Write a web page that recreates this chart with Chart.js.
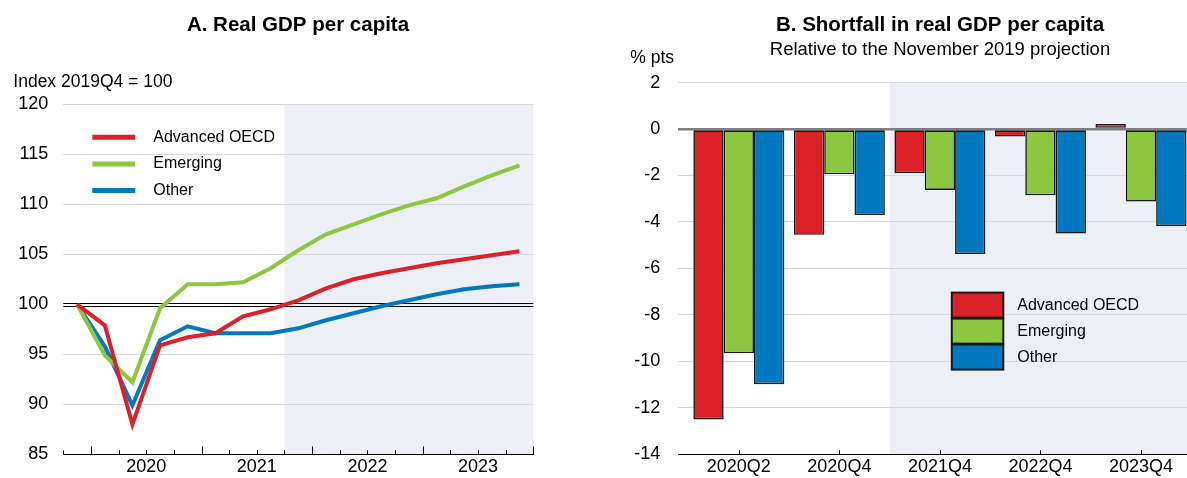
<!DOCTYPE html>
<html>
<head>
<meta charset="utf-8">
<script src="https://cdn.jsdelivr.net/npm/chart.js@4.4.1/dist/chart.umd.min.js"></script>
<style>
html,body{margin:0;padding:0;background:#fff;overflow:hidden;width:1187px;height:478px;position:relative;}
#chartA{position:absolute;left:0;top:0;}
#chartB{position:absolute;left:600px;top:0;}
</style>
</head>
<body>
<canvas id="chartA" width="596" height="478"></canvas>
<canvas id="chartB" width="680" height="478"></canvas>
<script>
// ---------- Data ----------
const quarters = ['2019Q4','2020Q1','2020Q2','2020Q3','2020Q4','2021Q1','2021Q2','2021Q3','2021Q4',
                  '2022Q1','2022Q2','2022Q3','2022Q4','2023Q1','2023Q2','2023Q3','2023Q4'];
const yearLabels = ['2020','2021','2022','2023'];
const advancedGDP = [100, 97.9, 88.0, 95.9, 96.7, 97.1, 98.8, 99.5, 100.4, 101.6, 102.5, 103.1, 103.6, 104.1, 104.5, 104.9, 105.3];
const emergingGDP = [100, 94.9, 92.2, 99.6, 102.0, 102.0, 102.2, 103.6, 105.4, 107.0, 108.0, 109.0, 109.9, 110.6, 111.8, 112.9, 113.9];
const otherGDP    = [100, 95.8, 89.9, 96.4, 97.8, 97.1, 97.1, 97.1, 97.6, 98.4, 99.1, 99.8, 100.4, 101.0, 101.5, 101.8, 102.0];
const gdpProjectionStart = '2021Q4';

const shortfallCategories = ['2020Q2','2020Q4','2021Q4','2022Q4','2023Q4'];
const advancedShortfall = [-12.5, -4.55, -1.9, -0.32, 0.22];
const emergingShortfall = [-9.65, -1.95, -2.62, -2.85, -3.12];
const otherShortfall    = [-10.98, -3.7, -5.38, -4.5, -4.18];
const shortfallProjectionStart = '2021Q4';

const seriesNames  = ['Advanced OECD', 'Emerging', 'Other'];
const seriesColors = ['#DA2128', '#8DC63F', '#0079C1'];

// ---------- Styling ----------
const FONT = "'Liberation Sans', Arial, Helvetica, sans-serif";
Chart.defaults.font.family = FONT;
Chart.defaults.color = '#000';
const GRID = '#D9D9D9';
const SHADE = '#ECEFF6';
const NONE = 'rgba(0,0,0,0)';

const toPoints = arr => arr.map((v, i) => ({x: i, y: v}));

// year label positions: middle of each year's quarters (index space)
const yearTickPositions = yearLabels.map(y => {
  const idx = quarters.map((q, i) => q.startsWith(y) ? i : -1).filter(i => i >= 0);
  return (idx[0] + idx[idx.length - 1]) / 2;
});

// an empty right-hand axis used only to reserve space, so titles stay centred on the canvas
const spacerAxis = w => ({
  type: 'linear', position: 'right', display: true,
  ticks: {display: false}, grid: {display: false, drawTicks: false}, border: {display: false},
  afterFit: s => { s.width = w; }
});

// ---------- Plugins for chart A ----------
const pluginA = {
  id: 'decorA',
  beforeDraw(chart) {
    const {ctx, chartArea: a, scales: {x}} = chart;
    const xs = x.getPixelForValue(quarters.indexOf(gdpProjectionStart) - 0.5);
    ctx.save();
    ctx.fillStyle = SHADE;
    ctx.fillRect(xs, a.top, a.right - xs, a.bottom - a.top);
    ctx.restore();
  },
  beforeDatasetsDraw(chart) {
    const {ctx, chartArea: a, scales: {x, y}} = chart;
    ctx.save();
    // double line at 100
    const y100 = y.getPixelForValue(100);
    ctx.strokeStyle = '#000';
    ctx.lineWidth = 1;
    [-1.5, 1.5].forEach(d => {
      ctx.beginPath();
      ctx.moveTo(a.left, Math.round(y100 + d) + 0.5);
      ctx.lineTo(a.right, Math.round(y100 + d) + 0.5);
      ctx.stroke();
    });
    // tick marks at quarter boundaries (upward)
    const yb = a.bottom;
    for (let i = 0; i <= quarters.length; i++) {
      const v = i - 0.5;
      const px = Math.round(x.getPixelForValue(v)) + 0.5;
      const nextQ = quarters[i];
      const major = nextQ ? nextQ.endsWith('Q1') : true;
      const len = major ? 8 : 4;
      ctx.beginPath();
      ctx.moveTo(px, yb);
      ctx.lineTo(px, yb - len);
      ctx.stroke();
    }
    ctx.restore();
  },
  afterDraw(chart) {
    const {ctx, chartArea: a} = chart;
    ctx.save();
    ctx.font = '17.5px ' + FONT;
    ctx.fillStyle = '#000';
    ctx.textBaseline = 'middle';
    ctx.textAlign = 'left';
    ctx.fillText('Index 2019Q4 = 100', a.left - 50, a.top - 22);
    // legend
    chart.data.datasets.forEach((ds, i) => {
      const yy = a.top + 33 + i * 26.6;
      ctx.strokeStyle = ds.borderColor;
      ctx.lineWidth = 5;
      ctx.beginPath();
      ctx.moveTo(a.left + 29, yy);
      ctx.lineTo(a.left + 72, yy);
      ctx.stroke();
      ctx.font = '16px ' + FONT;
      ctx.fillText(ds.label, a.left + 90, yy);
    });
    ctx.restore();
  }
};

new Chart(document.getElementById('chartA'), {
  type: 'line',
  data: {
    datasets: [
      {label: seriesNames[0], data: toPoints(advancedGDP), borderColor: seriesColors[0]},
      {label: seriesNames[1], data: toPoints(emergingGDP), borderColor: seriesColors[1]},
      {label: seriesNames[2], data: toPoints(otherGDP),    borderColor: seriesColors[2]}
    ].map(d => Object.assign(d, {borderWidth: 4, pointRadius: 0, tension: 0, fill: false}))
  },
  options: {
    responsive: false,
    animation: false,
    devicePixelRatio: 1,
    layout: {padding: 0},
    plugins: {
      legend: {display: false},
      tooltip: {enabled: false},
      title: {display: true, text: 'A. Real GDP per capita', color: '#000',
              font: {size: 20.5, weight: 'bold'}, padding: {top: 13.5, bottom: 66.2}}
    },
    scales: {
      x: {
        type: 'linear', min: -0.5, max: quarters.length - 0.5,
        afterBuildTicks: s => { s.ticks = yearTickPositions.map(v => ({value: v})); },
        ticks: {callback: (v, i) => yearLabels[i], font: {size: 18}, color: '#000',
                padding: 2, maxRotation: 0, autoSkip: false},
        grid: {display: false, drawTicks: false},
        border: {display: true, color: '#000', width: 1},
        afterFit: s => { s.height = 23.7; }
      },
      y: {
        min: 85, max: 120,
        ticks: {stepSize: 5, font: {size: 18}, color: '#000', padding: 0},
        grid: {drawTicks: true, tickLength: 15, tickColor: NONE, lineWidth: 1,
               color: c => (c.tick && (c.tick.value === 100 || c.tick.value === 85)) ? NONE : GRID},
        border: {display: false},
        afterFit: s => { s.width = 63.3; }
      },
      spacer: spacerAxis(62.7)
    }
  },
  plugins: [pluginA]
});

// ---------- Chart B ----------
const pluginB = {
  id: 'decorB',
  beforeDraw(chart) {
    const {ctx, chartArea: a, scales: {x}} = chart;
    const xs = x.getPixelForValue(shortfallCategories.indexOf(shortfallProjectionStart) - 0.5);
    ctx.save();
    ctx.fillStyle = SHADE;
    ctx.fillRect(xs, a.top, a.right - xs, a.bottom - a.top);
    ctx.restore();
  },
  afterDatasetsDraw(chart) {
    const {ctx, chartArea: a, scales: {x}} = chart;
    ctx.save();
    ctx.strokeStyle = '#000';
    ctx.lineWidth = 1;
    shortfallCategories.forEach((c, i) => {
      const px = Math.round(x.getPixelForValue(i)) + 0.5;
      ctx.beginPath();
      ctx.moveTo(px, a.bottom);
      ctx.lineTo(px, a.bottom - 4);
      ctx.stroke();
    });
    ctx.restore();
  },
  afterDraw(chart) {
    const {ctx, chartArea: a} = chart;
    ctx.save();
    ctx.fillStyle = '#000';
    ctx.textBaseline = 'middle';
    ctx.textAlign = 'left';
    ctx.font = '17.5px ' + FONT;
    ctx.fillText('% pts', a.left - 48, a.top - 24);
    // legend
    chart.data.datasets.forEach((ds, i) => {
      const bx = a.left + 273.5, by = a.top + 210 + i * 26;
      ctx.fillStyle = ds.backgroundColor;
      ctx.fillRect(bx, by, 51.5, 25);
      ctx.strokeStyle = '#1a1a1a';
      ctx.lineWidth = 2;
      ctx.strokeRect(bx, by, 51.5, 25);
      ctx.fillStyle = '#000';
      ctx.font = '16px ' + FONT;
      ctx.fillText(ds.label, a.left + 339, by + 12.5);
    });
    ctx.restore();
  }
};

const barStyle = {borderColor: '#1a1a1a', borderWidth: 1.6, borderSkipped: false,
                  categoryPercentage: 0.905, barPercentage: 1.0};

new Chart(document.getElementById('chartB'), {
  type: 'bar',
  data: {
    datasets: [
      {label: seriesNames[0], data: toPoints(advancedShortfall), backgroundColor: seriesColors[0]},
      {label: seriesNames[1], data: toPoints(emergingShortfall), backgroundColor: seriesColors[1]},
      {label: seriesNames[2], data: toPoints(otherShortfall),    backgroundColor: seriesColors[2]}
    ].map(d => Object.assign(d, barStyle))
  },
  options: {
    responsive: false,
    animation: false,
    devicePixelRatio: 1,
    layout: {padding: 0},
    plugins: {
      legend: {display: false},
      tooltip: {enabled: false},
      title: {display: true, text: 'B. Shortfall in real GDP per capita', color: '#000',
              font: {size: 20.5, weight: 'bold'}, padding: {top: 13.5, bottom: 0.6}},
      subtitle: {display: true, text: 'Relative to the November 2019 projection', color: '#000',
                 font: {size: 18.5, weight: 'normal'}, padding: {top: 0, bottom: 21.7}}
    },
    scales: {
      x: {
        type: 'linear', min: -0.602, max: 4.587, offset: false,
        afterBuildTicks: s => { s.ticks = shortfallCategories.map((c, i) => ({value: i})); },
        ticks: {callback: (v) => shortfallCategories[v], font: {size: 18}, color: '#000',
                padding: 2, maxRotation: 0, autoSkip: false},
        grid: {display: false, drawTicks: false},
        border: {display: true, color: '#000', width: 1},
        afterFit: s => { s.height = 23.7; }
      },
      y: {
        min: -14, max: 2,
        ticks: {stepSize: 2, font: {size: 18}, color: '#000', padding: 0},
        grid: {drawTicks: true, tickLength: 18, tickColor: NONE,
               color: c => !c.tick ? GRID : (c.tick.value === 0 ? '#7F7F7F' : (c.tick.value === -14 ? NONE : GRID)),
               lineWidth: c => (c.tick && c.tick.value === 0) ? 2.5 : 1},
        border: {display: false},
        afterFit: s => { s.width = 78.3; }
      },
      spacer: spacerAxis(80)
    }
  },
  plugins: [pluginB]
});
</script>
</body>
</html>
